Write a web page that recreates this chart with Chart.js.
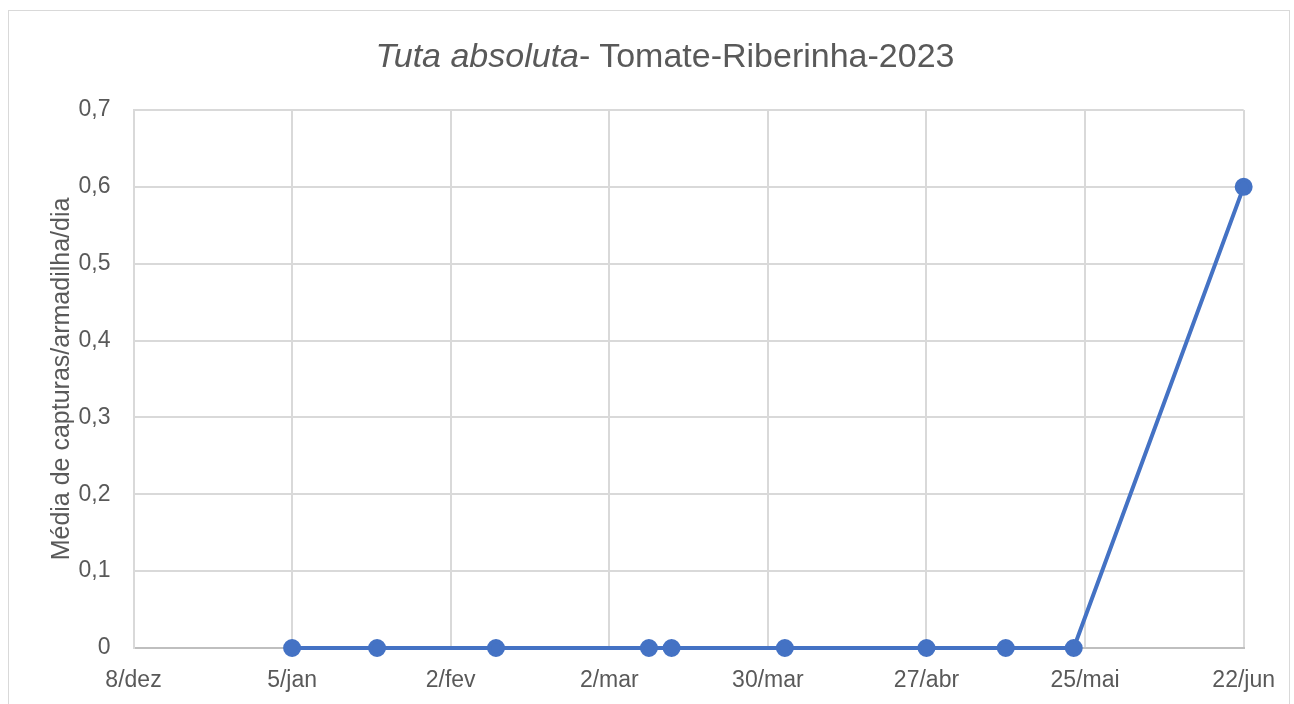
<!DOCTYPE html>
<html>
<head>
<meta charset="utf-8">
<script src="https://cdn.jsdelivr.net/npm/chart.js@4/dist/chart.umd.min.js"></script>
<style>
    body { margin: 0; background: #fff; width: 1294px; height: 704px; overflow: hidden; position: relative; }
    #frame { position: absolute; left: 8px; top: 10px; width: 1282px; height: 720px; border: 1px solid #d9d9d9; box-sizing: border-box; }
    #title { position: absolute; left: 18px; top: 34px; width: 1294px; text-align: center; font-family: 'Liberation Sans', sans-serif; font-size: 34px; line-height: 42px; color: #595959; }
    #wrap { position: absolute; left: 0; top: 0; width: 1294px; height: 704px; }
</style>
</head>
<body>
<div id="frame"></div>
<div id="wrap"><canvas id="chart"></canvas></div>
<div id="title"><i>Tuta absoluta</i>- Tomate-Riberinha-2023</div>
<script>
// sampling dates and mean captures per trap per day
const sampleDates = ['2023-01-05', '2023-01-20', '2023-02-10', '2023-03-09', '2023-03-13',
    '2023-04-02', '2023-04-27', '2023-05-11', '2023-05-23', '2023-06-22'];
const captures = [0, 0, 0, 0, 0, 0, 0, 0, 0, 0.6];

// x axis ticks (every 28 days starting 8/dez)
const tickLabels = ['8/dez', '5/jan', '2/fev', '2/mar', '30/mar', '27/abr', '25/mai', '22/jun'];
const startDate = '2022-12-08';

const dayMs = 24 * 3600 * 1000;
function dayOffset(d) {
    return Math.round((Date.parse(d) - Date.parse(startDate)) / dayMs);
}

const points = sampleDates.map((d, i) => ({ x: dayOffset(d), y: captures[i] }));

const textColor = '#595959';
const gridColor = '#d9d9d9';
const font = { family: "'Liberation Sans', sans-serif", size: 23 };

new Chart(document.getElementById('chart'), {
    type: 'line',
    data: {
        datasets: [{
            data: points,
            borderColor: '#4472c4',
            backgroundColor: '#4472c4',
            borderWidth: 4,
            pointRadius: 7,
            pointHoverRadius: 7,
            tension: 0,
            clip: false
        }]
    },
    options: {
        responsive: true,
        maintainAspectRatio: false,
        animation: false,
        layout: { padding: { left: 0, top: 110, right: 50, bottom: 0 } },
        plugins: { legend: { display: false }, tooltip: { enabled: false } },
        scales: {
            x: {
                type: 'linear',
                min: 0,
                max: 28 * (tickLabels.length - 1),
                ticks: {
                    stepSize: 28,
                    color: textColor,
                    font: font,
                    padding: 19,
                    maxRotation: 0,
                    callback: (v, i) => tickLabels[i]
                },
                grid: { color: gridColor, drawTicks: false, lineWidth: 2 },
                border: { color: '#bfbfbf', width: 2 },
                afterFit: s => { s.height = 56; }
            },
            y: {
                min: 0,
                max: 0.7,
                ticks: {
                    stepSize: 0.1,
                    color: textColor,
                    font: font,
                    padding: 23,
                    callback: v => v === 0 ? '0' : v.toFixed(1).replace('.', ',')
                },
                grid: { color: gridColor, drawTicks: false, lineWidth: 2 },
                border: { color: gridColor, width: 2 },
                title: {
                    display: true,
                    text: 'Média de capturas/armadilha/dia',
                    color: textColor,
                    font: { family: font.family, size: 25 },
                    padding: { top: 47, bottom: 0 }
                },
                afterFit: s => { s.width = 133.5; }
            }
        }
    }
});
</script>
</body>
</html>
